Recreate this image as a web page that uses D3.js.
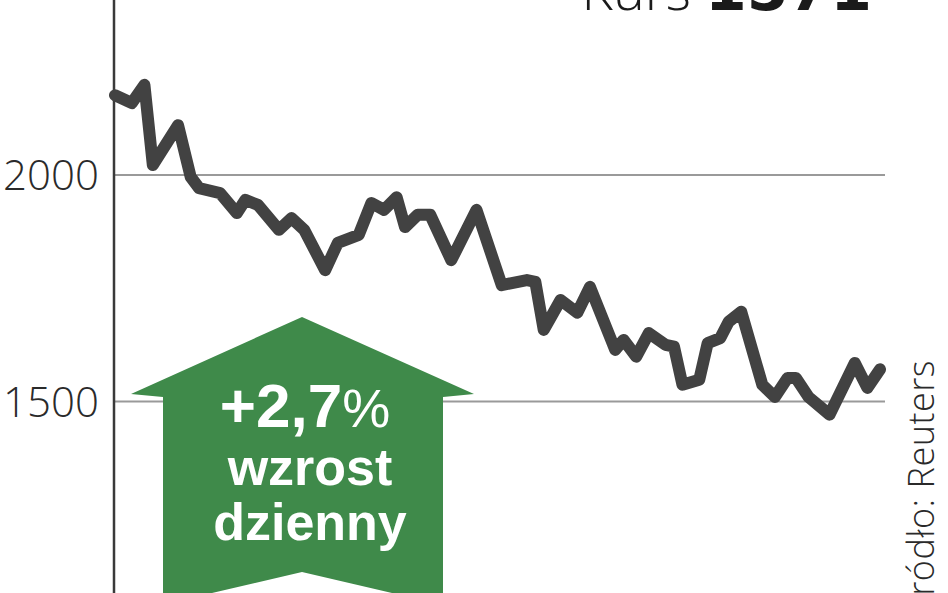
<!DOCTYPE html>
<html>
<head>
<meta charset="utf-8">
<script src="https://cdn.jsdelivr.net/npm/d3@7"></script>
<style>
html,body{margin:0;padding:0;background:#fff;}
svg{display:block;}
</style>
</head>
<body>
<svg id="chart" width="948" height="593"></svg>
<script>
// ---- data ----
const days = [0,4,7,9,15,18,20,25,29,31,34,39,42,45,50,53,58,61,64,67,69,72,75,80,86,92,98,100,102,106,110,113,119,121,124,127,131,133,135,139,141,144,146,149,154,157,160,162,165,170,176,179,182];
const values = [2176,2159,2199,2022,2110,1996,1971,1960,1916,1945,1934,1879,1905,1879,1790,1850,1868,1938,1923,1951,1885,1912,1912,1812,1923,1757,1768,1764,1658,1724,1696,1753,1614,1636,1599,1651,1625,1621,1537,1548,1629,1640,1676,1698,1537,1510,1552,1552,1510,1471,1585,1530,1571];
const tickValues = [1500, 2000];
const tickLabels = ["1500", "2000"];
const titleLabel = "Kurs";
const titleValue = "1571";
const changeLabel = "+2,7";
const changeUnit = "%";
const changeText = ["wzrost", "dzienny"];
const sourceText = "Źródło: Reuters";

// ---- layout ----
const W = 948, H = 593;
const svg = d3.select("#chart");
const x = d3.scaleLinear().domain([0, 182]).range([115, 880]);
const y = d3.scaleLinear().domain([1500, 2000]).range([401.5, 175]);
const axisX = 114, gridEnd = 885;

// gridlines
svg.selectAll("line.grid").data(tickValues).enter().append("line")
  .attr("class","grid")
  .attr("x1", axisX).attr("x2", gridEnd)
  .attr("y1", d => y(d)).attr("y2", d => y(d))
  .attr("stroke", "#9a9a9a").attr("stroke-width", 2);

// tick labels
svg.selectAll("text.tick").data(tickValues).enter().append("text")
  .attr("class","tick")
  .attr("x", 99).attr("y", d => y(d) + 15)
  .attr("text-anchor", "end")
  .attr("font-family", "'Open Sans', sans-serif")
  .attr("font-weight", 300)
  .attr("font-size", 42)
  .attr("fill", "#2a2a2a")
  .text((d,i) => tickLabels[i]);

// vertical axis
svg.append("line")
  .attr("x1", axisX).attr("x2", axisX).attr("y1", 0).attr("y2", H)
  .attr("stroke", "#3a3a3a").attr("stroke-width", 2.5);

// green arrow annotation
const cx = 302;
const arrowPts = [
  [cx, 317], [474, 394], [443, 397], [443, 600],
  [cx + 120, 600], [cx, 572], [cx - 120, 600],
  [163, 600], [163, 397], [131, 394]
];
svg.append("polygon")
  .attr("points", arrowPts.map(p => p.join(",")).join(" "))
  .attr("fill", "#3f8a4a");

const t1 = svg.append("text")
  .attr("x", 305).attr("y", 427)
  .attr("text-anchor", "middle")
  .attr("fill", "#fff")
  .attr("font-family", "'Liberation Sans', Arial, sans-serif");
t1.append("tspan").attr("font-weight", 700).attr("font-size", 62).text(changeLabel);
t1.append("tspan").attr("font-weight", 400).attr("font-size", 54).text(changeUnit);

svg.selectAll("text.chg").data(changeText).enter().append("text")
  .attr("class","chg")
  .attr("x", 310).attr("y", (d,i) => 485 + i * 55)
  .attr("text-anchor", "middle")
  .attr("fill", "#fff")
  .attr("font-family", "'Liberation Sans', Arial, sans-serif")
  .attr("font-weight", 700)
  .attr("font-size", 52)
  .text(d => d);

// price line
const pts = days.map((d, i) => [d, values[i]]);
svg.append("path")
  .datum(pts)
  .attr("fill", "none")
  .attr("stroke", "#424242")
  .attr("stroke-width", 12)
  .attr("stroke-linejoin", "round")
  .attr("stroke-linecap", "round")
  .attr("d", d3.line().x(d => x(d[0])).y(d => y(d[1])));

// title (cropped at top, as in the reference)
const tt = svg.append("text")
  .attr("x", 872).attr("y", 10)
  .attr("text-anchor", "end")
  .attr("fill", "#1a1a1a");
tt.append("tspan")
  .attr("font-family", "'Open Sans', sans-serif")
  .attr("font-weight", 300)
  .attr("font-size", 54)
  .text(titleLabel + " ");
tt.append("tspan")
  .attr("font-family", "'DejaVu Sans', sans-serif")
  .attr("font-weight", 700)
  .attr("font-size", 60)
  .text(titleValue);

// source (rotated)
svg.append("text")
  .attr("transform", "translate(934,360) rotate(-90)")
  .attr("text-anchor", "end")
  .attr("font-family", "'Open Sans', sans-serif")
  .attr("font-weight", 300)
  .attr("font-size", 36)
  .attr("letter-spacing", 0.5)
  .attr("fill", "#2a2a2a")
  .text(sourceText);
</script>
</body>
</html>
